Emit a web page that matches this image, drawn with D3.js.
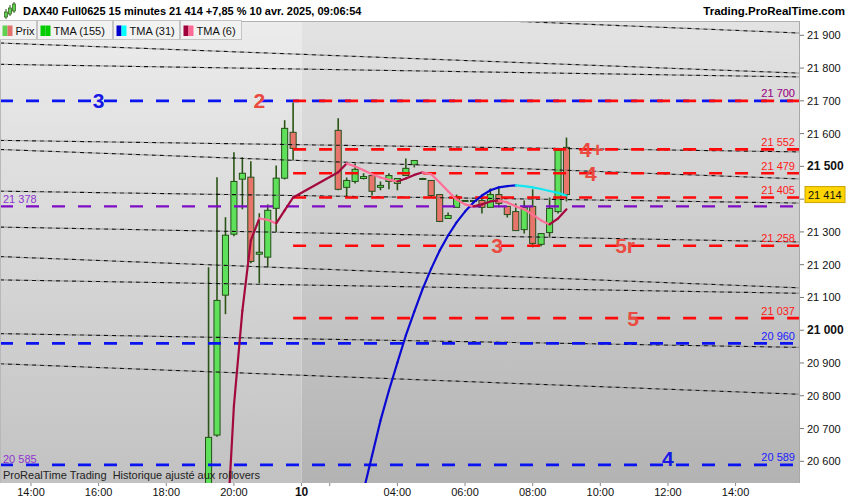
<!DOCTYPE html>
<html lang="fr">
<head>
<meta charset="UTF-8">
<title>DAX40 Full0625 15 minutes</title>
<script src="https://cdn.jsdelivr.net/npm/d3@7/dist/d3.min.js"></script>
<style>
  body { margin: 0; background: #fff; }
  svg text { font-family: "Liberation Sans", Arial, sans-serif; }
</style>
</head>
<body>
<div id="chart"></div>
<script>
// 15 minute bars, "day/hh:mm"
const candleTimes = [
  "9/19:15","9/19:30","9/19:45","9/20:00","9/20:15","9/20:30","9/20:45","9/21:00","9/21:15","9/21:30","9/21:45",
  "10/02:15","10/02:30","10/02:45","10/03:00","10/03:15","10/03:30","10/03:45","10/04:00","10/04:15","10/04:30",
  "10/04:45","10/05:00","10/05:15","10/05:30","10/05:45","10/06:00","10/06:15","10/06:30","10/06:45","10/07:00",
  "10/07:15","10/07:30","10/07:45","10/08:00","10/08:15","10/08:30","10/08:45","10/09:00"
];
const opens = [
  20400,20680,21107,21293,21461,21467,21232,21223,21372,21464,21604,
  21610,21436,21454,21463,21472,21436,21454,21448,21472,21506,
  21463,21457,21414,21341,21375,21396,21396,21396,21375,21414,
  21378,21362,21307,21378,21262,21298,21362,21558
];
const highs = [
  21192,21467,21345,21543,21528,21516,21357,21384,21503,21641,21695,
  21647,21466,21509,21479,21482,21454,21479,21463,21524,21518,
  21465,21457,21414,21359,21414,21397,21397,21402,21433,21433,
  21378,21387,21396,21430,21295,21405,21549,21588
];
const lows = [
  20380,20675,21049,21287,21369,21204,21143,21192,21300,21460,21519,
  21427,21405,21448,21460,21411,21427,21430,21427,21472,21497,
  21461,21405,21330,21341,21375,21395,21395,21356,21375,21375,
  21344,21304,21295,21253,21256,21283,21356,21393
];
const closes = [
  20673,21091,21290,21454,21479,21210,21238,21366,21464,21616,21555,
  21430,21457,21491,21469,21424,21442,21472,21463,21494,21518,
  21463,21411,21332,21350,21408,21396,21396,21375,21414,21387,
  21353,21304,21375,21265,21295,21372,21549,21414
];

// TMA (6) and TMA (31) read per bar
const tma6 = [
  20050,20150,20300,20770,21060,21274,21341,21337,21326,21366,21405,
  21482,21509,21500,21488,21476,21466,21459,21454,21463,21474,
  21482,21476,21451,21424,21399,21384,21378,21384,21393,21396,
  21390,21378,21369,21353,21335,21323,21341,21369
];
const tma31 = [
  null,null,null,null,null,null,null,null,null,null,null,
  20120,20250,20380,20510,20617,20724,20816,20901,20984,21057,
  21127,21188,21243,21289,21329,21362,21390,21411,21427,21436,
  21440,21442,21440,21436,21431,21425,21419,21411
];

// dotted trend lines: price at 9/14:00 and at 10/14:00
const trendStart = [22004,21873,21810,21578,21548,21423,21313,21221,21152,20988,20894];
const trendEnd   = [21915,21792,21776,21547,21469,21391,21273,21137,21116,20951,20812];

// horizontal levels
const redLevels = [21700,21552,21479,21405,21258,21037];
const redFrom = "9/21:45";
const blueLevels = [21700,20960,20589];
const purpleLevel = 21378;
const leftLabels = ["21 378","20 585"];
const leftLabelPrices = [21378,20585];

// text marks on the chart
const markTexts  = ["3","2","3","4+","4","5r","5","4"];
const markTimes  = ["9/16:00","9/20:45","10/06:57","10/09:45","10/09:43","10/10:44","10/10:58","10/12:00"];
const markPrices = [21700,21700,21258,21552,21479,21258,21037,20610];
const markBlue   = [true,false,false,false,false,false,false,true];

// axes
const tickTimes  = ["9/14:00","9/16:00","9/18:00","9/20:00","10/01:10","10/02:00","10/04:00","10/06:00","10/08:00","10/10:00","10/12:00","10/14:00"];
const tickLabels = ["14:00","16:00","18:00","20:00","10","","04:00","06:00","08:00","10:00","12:00","14:00"];
const priceTicks = [21900,21800,21700,21600,21500,21300,21200,21100,21000,20900,20800,20700,20600];
const lastPrice = 21414;

const W = 850, H = 500;
const plot = {left: 0, right: 799, top: 21, bottom: 483};

// hours on a compressed axis: session break 22:00 -> 01:10
function toU(s) {
  const [d, hm] = s.split("/");
  const [hh, mm] = hm.split(":").map(Number);
  const h = hh + mm / 60;
  return d === "9" ? h - 14 : h + 8 - (1 + 10 / 60);
}

const x = d3.scaleLinear().domain([0, 22]).range([31, 31 + 22 * 33.82]);
const y = d3.scaleLinear().domain([20600, 21900]).range([461.3, 35.3]);
const fr = d3.formatLocale({decimal: ",", thousands: " ", grouping: [3], currency: ["", " €"]});
const fmt = fr.format(",");

const svg = d3.select("#chart").append("svg").attr("width", W).attr("height", H);
const defs = svg.append("defs");

function grad(id, c0, c1) {
  const g = defs.append("linearGradient").attr("id", id).attr("x1", 0).attr("y1", 0).attr("x2", 0).attr("y2", 1);
  g.append("stop").attr("offset", "0%").attr("stop-color", c0);
  g.append("stop").attr("offset", "100%").attr("stop-color", c1);
}
grad("bgOld", "#ececec", "#c2c2c2");
grad("bgNew", "#e3e3e3", "#b3b3b3");

defs.append("clipPath").attr("id", "clip").append("rect")
  .attr("x", plot.left).attr("y", plot.top)
  .attr("width", plot.right - plot.left).attr("height", plot.bottom - plot.top);

// background
const xDay = x(toU("10/01:10"));
svg.append("rect").attr("x", 0).attr("y", plot.top).attr("width", xDay).attr("height", plot.bottom - plot.top).attr("fill", "url(#bgOld)");
svg.append("rect").attr("x", xDay).attr("y", plot.top).attr("width", plot.right - xDay).attr("height", plot.bottom - plot.top).attr("fill", "url(#bgNew)");

const g = svg.append("g").attr("clip-path", "url(#clip)");

// candles
const candles = candleTimes.map((t, i) => ({
  u: toU(t), o: opens[i], h: highs[i], l: lows[i], c: closes[i]
}));
const bw = (x(0.25) - x(0)) * 0.72;
const cg = g.append("g");
cg.selectAll("line.wick").data(candles).enter().append("line")
  .attr("x1", d => x(d.u)).attr("x2", d => x(d.u))
  .attr("y1", d => y(d.h)).attr("y2", d => y(d.l))
  .attr("stroke", "#2b5516").attr("stroke-width", 1.6);
cg.selectAll("rect.body").data(candles).enter().append("rect")
  .attr("x", d => x(d.u) - bw / 2)
  .attr("y", d => y(Math.max(d.o, d.c)))
  .attr("width", bw)
  .attr("height", d => Math.max(1, Math.abs(y(d.o) - y(d.c))))
  .attr("fill", d => d.c >= d.o ? "#5fe05a" : "#e8756b")
  .attr("stroke", "#24501a").attr("stroke-width", 1);

// dotted trend lines, extended over the whole plot
const u0 = toU("9/14:00"), u1 = toU("10/14:00");
const uL = x.invert(plot.left), uR = x.invert(plot.right);
const trends = trendStart.map((p, i) => {
  const k = (trendEnd[i] - p) / (u1 - u0);
  return [{u: uL, v: p + k * (uL - u0)}, {u: uR, v: p + k * (uR - u0)}];
});
const tl = d3.line().x(d => x(d.u)).y(d => y(d.v));
g.selectAll("path.trendGrey").data(trends).enter().append("path")
  .attr("d", tl).attr("fill", "none").attr("stroke", "#7a7a7a").attr("stroke-opacity", 0.6)
  .attr("stroke-width", 1.3).attr("stroke-dasharray", "4,4").attr("stroke-dashoffset", 4);
g.selectAll("path.trendBlack").data(trends).enter().append("path")
  .attr("d", tl).attr("fill", "none").attr("stroke", "#111")
  .attr("stroke-width", 1.1).attr("stroke-dasharray", "4,4");

// horizontal levels
g.selectAll("line.purple").data([purpleLevel]).enter().append("line")
  .attr("x1", plot.left).attr("x2", plot.right)
  .attr("y1", d => y(d)).attr("y2", d => y(d))
  .attr("stroke", "#7e0cc4").attr("stroke-width", 2.4).attr("stroke-dasharray", "13,13");
g.selectAll("line.blue").data(blueLevels).enter().append("line")
  .attr("x1", plot.left).attr("x2", plot.right)
  .attr("y1", d => y(d)).attr("y2", d => y(d))
  .attr("stroke", "#0a14f0").attr("stroke-width", 2.6).attr("stroke-dasharray", "13,13");
const xRed = x(toU(redFrom));
g.selectAll("line.red").data(redLevels).enter().append("line")
  .attr("x1", xRed).attr("x2", plot.right)
  .attr("y1", d => y(d)).attr("y2", d => y(d))
  .attr("stroke", "#ff0a0a").attr("stroke-width", 2.6).attr("stroke-dasharray", "13,13");

// moving averages, coloured by direction
function drawMA(values, up, down, width) {
  const pts = candles.map((d, i) => ({u: d.u, v: values[i]}));
  const ln = d3.line().x(d => x(d.u)).y(d => y(d.v));
  for (let i = 1; i < pts.length; i++) {
    if (pts[i].v == null || pts[i - 1].v == null) continue;
    g.append("path").datum([pts[i - 1], pts[i]])
      .attr("d", ln).attr("fill", "none")
      .attr("stroke", pts[i].v >= pts[i - 1].v ? up : down)
      .attr("stroke-width", width).attr("stroke-linecap", "round");
  }
}
drawMA(tma31, "#0a0ad2", "#12e6f0", 2.2);
drawMA(tma6, "#a3093e", "#ff6f96", 2.2);

// level labels on the right of the plot
const lab = svg.append("g").style("font-size", "11px").attr("text-anchor", "end");
lab.selectAll("text.r").data(redLevels).enter().append("text")
  .attr("x", 795).attr("y", d => y(d) - 3.5).attr("fill", "#ff1a1a").text(d => fmt(d));
lab.selectAll("text.b").data(blueLevels).enter().append("text")
  .attr("x", 795).attr("y", d => y(d) - 3.5).attr("fill", "#1a1aff")
  .attr("fill-opacity", d => redLevels.includes(d) ? 0.55 : 1).text(d => fmt(d));
svg.append("g").style("font-size", "11px").selectAll("text").data(leftLabels).enter().append("text")
  .attr("x", 3).attr("y", (d, i) => y(leftLabelPrices[i]) - 3.5)
  .attr("fill", "#8f35d0").text(d => d);

// chart marks
svg.append("g").selectAll("text").data(markTexts).enter().append("text")
  .attr("x", (d, i) => x(toU(markTimes[i])))
  .attr("y", (d, i) => y(markPrices[i]))
  .attr("text-anchor", "middle").attr("dominant-baseline", "central")
  .style("font-size", "21px").style("font-weight", "bold")
  .attr("fill", (d, i) => markBlue[i] ? "#1818e6" : "#ea4a40")
  .text(d => d);

svg.append("text").attr("x", 3).attr("y", 479).style("font-size", "11px").attr("fill", "#222")
  .text("ProRealTime Trading\u00a0 Historique ajusté aux rollovers");

// plot frame
svg.append("line").attr("x1", 0.5).attr("x2", 0.5).attr("y1", plot.top).attr("y2", plot.bottom).attr("stroke", "#b8b8b8");
svg.append("line").attr("x1", 0).attr("x2", plot.right).attr("y1", plot.top + 0.5).attr("y2", plot.top + 0.5).attr("stroke", "#b0b0b0");
svg.append("line").attr("x1", plot.right + 0.5).attr("x2", plot.right + 0.5).attr("y1", plot.top).attr("y2", plot.bottom).attr("stroke", "#a8a8a8");

// price axis
const ya = svg.append("g").style("font-size", "11px");
ya.selectAll("line").data(priceTicks.concat([21400])).enter().append("line")
  .attr("x1", plot.right + 1).attr("x2", plot.right + 5)
  .attr("y1", d => y(d)).attr("y2", d => y(d)).attr("stroke", "#777");
ya.selectAll("text").data(priceTicks).enter().append("text")
  .attr("x", 807).attr("y", d => y(d)).attr("dominant-baseline", "central")
  .style("font-weight", d => d % 500 === 0 ? "bold" : "normal")
  .style("font-size", d => d % 500 === 0 ? "12px" : "11px")
  .attr("fill", "#111").text(d => fmt(d));
ya.append("rect").attr("x", 805).attr("y", y(lastPrice) - 8).attr("width", 40).attr("height", 16)
  .attr("fill", "#ffd400").attr("stroke", "#c9a400");
ya.append("text").attr("x", 808).attr("y", y(lastPrice)).attr("dominant-baseline", "central")
  .attr("fill", "#111").text(fmt(lastPrice));

// time axis
const xa = svg.append("g").style("font-size", "11px");
xa.selectAll("line").data(tickTimes).enter().append("line")
  .attr("x1", d => x(toU(d))).attr("x2", d => x(toU(d)))
  .attr("y1", plot.bottom).attr("y2", plot.bottom + 3).attr("stroke", "#888");
xa.selectAll("text").data(tickLabels).enter().append("text")
  .attr("x", (d, i) => x(toU(tickTimes[i]))).attr("y", 496)
  .attr("text-anchor", "middle")
  .style("font-weight", d => d === "10" ? "bold" : "normal")
  .style("font-size", d => d === "10" ? "12px" : "11px")
  .attr("fill", "#111").text(d => d);

// title bar
const icon = svg.append("g");
[[6, 12, 17, 9], [10, 8, 14, 5], [14, 4, 11, 2]].forEach(([cx, top, bot, wt]) => {
  icon.append("line").attr("x1", cx).attr("x2", cx).attr("y1", wt).attr("y2", bot + 2).attr("stroke", "#2b5516");
  icon.append("rect").attr("x", cx - 1.5).attr("y", top).attr("width", 3).attr("height", bot - top)
    .attr("fill", "#5fd050").attr("stroke", "#2b5516").attr("stroke-width", 0.7);
});
svg.append("text").attr("x", 23).attr("y", 15).style("font-size", "11px").style("font-weight", "bold")
  .attr("fill", "#000").text("DAX40 Full0625 15 minutes 21 414 +7,85 % 10 avr. 2025, 09:06:54");
svg.append("text").attr("x", 845).attr("y", 15).attr("text-anchor", "end")
  .style("font-size", "11.5px").style("font-weight", "bold").attr("fill", "#000")
  .text("Trading.ProRealTime.com");

// legend boxes
const legendNames = ["Prix", "TMA (155)", "TMA (31)", "TMA (6)"];
const legendColors = [["#5fd050", "#e2706a"], ["#00cc00", "#00cc00"], ["#0000cc", "#00ffff"], ["#a0003c", "#ff6a96"]];
const legendEdges = [-1, 37, 113, 180, 242];
const lg = svg.append("g");
legendNames.forEach((name, i) => {
  const x0 = legendEdges[i], x1 = legendEdges[i + 1];
  lg.append("rect").attr("x", x0 + 0.5).attr("y", 20.5).attr("width", x1 - x0 - 1).attr("height", 19)
    .attr("fill", "#f2f2f2").attr("stroke", "#c4c4c4");
  lg.append("rect").attr("x", x0 + 3.5).attr("y", 25.5).attr("width", 5).attr("height", 10.5).attr("fill", legendColors[i][0]);
  lg.append("rect").attr("x", x0 + 8.5).attr("y", 25.5).attr("width", 5).attr("height", 10.5).attr("fill", legendColors[i][1]);
  lg.append("text").attr("x", x0 + 16.5).attr("y", 34.5).style("font-size", "11px").attr("fill", "#111").text(name);
});
</script>
</body>
</html>
